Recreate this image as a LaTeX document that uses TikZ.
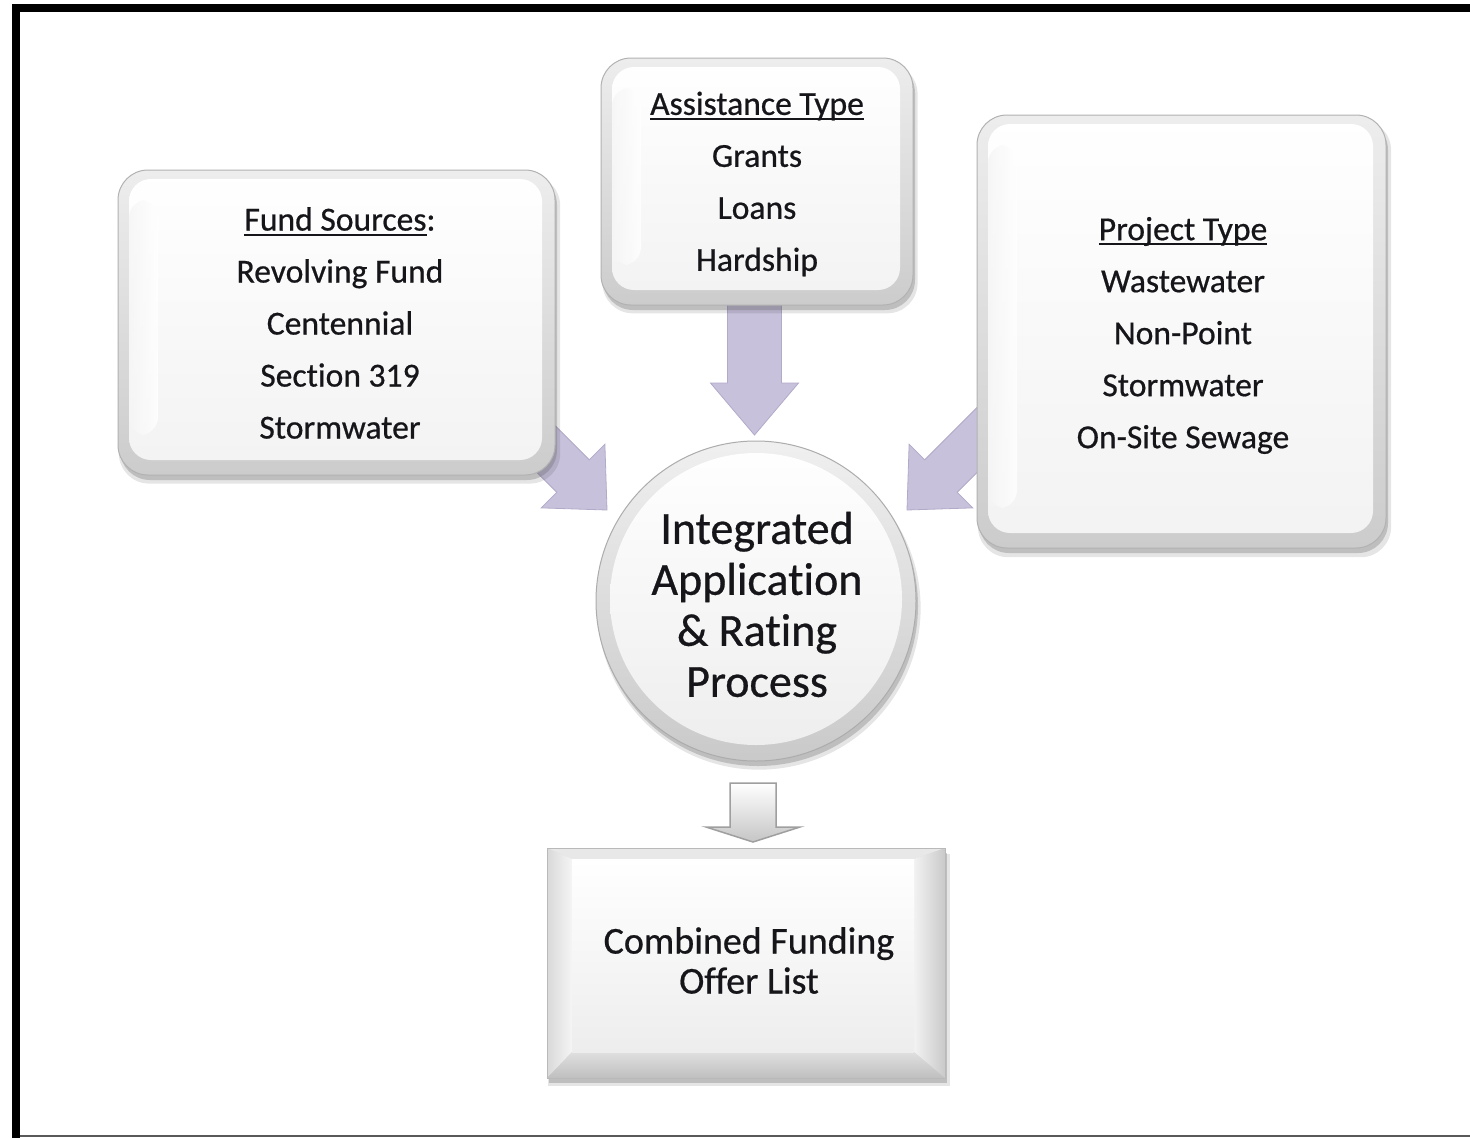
\documentclass[tikz,border=0pt]{standalone}
\usepackage{fontspec}
\setmainfont{Carlito}[Ligatures=NoCommon, FakeBold=0.6]
\usetikzlibrary{calc,shadows}
\definecolor{arrowc}{RGB}{200,193,220}
\definecolor{arrowe}{RGB}{178,170,200}
\definecolor{txt}{RGB}{22,22,26}
\newcommand\undl[1]{\setbox0\hbox{#1}\rlap{\rule[-5pt]{\wd0}{2pt}}\box0}
\newcommand\blockarrow[6]{%
  \coordinate (ab) at ($(#2)!#5!(#1)$);
  \path[#6] ($(#1)!#3!90:(#2)$) -- ($(ab)!#3!90:(#2)$) -- ($(ab)!#4!90:(#2)$)
    -- (#2) -- ($(ab)!#4!-90:(#2)$) -- ($(ab)!#3!-90:(#2)$) -- ($(#1)!#3!-90:(#2)$) -- cycle;
}
\tikzset{
  lav/.style={fill=arrowc, draw=arrowe, line width=0.8pt, line join=miter},
  smallarr/.style={top color=white, bottom color=gray!45, draw=gray!75, line width=1.5pt},
  shad/.style={drop shadow={shadow xshift=2pt, shadow yshift=-5pt, opacity=0.3, fill=black!55},
               drop shadow={shadow xshift=3pt, shadow yshift=-7pt, shadow scale=1.01, opacity=0.1, fill=black}},
  gloss/.style={shad, rounded corners=30pt, draw=gray!60, line width=1pt,
    top color=gray!14, bottom color=gray!40,
    path picture={
      \shade[top color=white, bottom color=gray!10, rounded corners=22pt]
        ([shift={(11pt,-9pt)}]path picture bounding box.north west) rectangle
        ([shift={(-13pt,15pt)}]path picture bounding box.south east);
      \shade[left color=gray!8, right color=white, rounded corners=18pt, opacity=0.8]
        ([shift={(11pt,-30pt)}]path picture bounding box.north west) rectangle
        ([shift={(40pt,40pt)}]path picture bounding box.south west);
    }},
  ball/.style={shad, circle, draw=gray!65, line width=1pt, inner sep=0pt,
    top color=gray!12, bottom color=gray!42,
    path picture={
      \shade[top color=white, bottom color=gray!14]
        ([shift={(0pt,2pt)}]path picture bounding box.center) circle (146pt);
    }},
  bevel/.style={shad, rectangle, draw=gray!55, line width=1pt, fill=gray!30,
    path picture={
      \coordinate (bnw) at (path picture bounding box.north west);
      \coordinate (bne) at (path picture bounding box.north east);
      \coordinate (bsw) at (path picture bounding box.south west);
      \coordinate (bse) at (path picture bounding box.south east);
      \coordinate (inw) at ([shift={(25pt,-11pt)}]bnw);
      \coordinate (ine) at ([shift={(-31pt,-11pt)}]bne);
      \coordinate (isw) at ([shift={(25pt,26pt)}]bsw);
      \coordinate (ise) at ([shift={(-31pt,26pt)}]bse);
      \fill[gray!18] (bnw) -- (bne) -- (ine) -- (inw) -- cycle;
      \shade[left color=gray!30, right color=gray!8] (bnw) -- (inw) -- (isw) -- (bsw) -- cycle;
      \shade[left color=gray!10, right color=gray!42] (bne) -- (ine) -- (ise) -- (bse) -- cycle;
      \shade[top color=gray!25, bottom color=gray!50] (bsw) -- (isw) -- (ise) -- (bse) -- cycle;
      \shade[top color=white, bottom color=gray!14] (inw) rectangle (ise);
    }},
  lbl/.style={align=center, text=txt, inner sep=0pt}
}
\begin{document}
\begin{tikzpicture}[x=1pt, y=-1pt]
\useasboundingbox (0,0) rectangle (1470,1138);
\fill[white] (0,0) rectangle (1470,1138);
% frame
\draw[line width=8pt] (12,8) -- (1470,8);
\draw[line width=8pt] (16,4) -- (16,1138);
\draw[gray!70!black, line width=2pt] (20,1136) -- (1470,1136);

% arrow anchors
\coordinate (ta) at (754.5,290);
\coordinate (tb) at (754.5,435);
\coordinate (la) at (487,390);
\coordinate (lb) at (607,510);
\coordinate (ra) at (1027,390);
\coordinate (rb) at (907,510);
\coordinate (ba) at (753,783);
\coordinate (bb) at (753,842);

\blockarrow{ta}{tb}{27pt}{44pt}{52pt}{lav}
\blockarrow{la}{lb}{23pt}{45pt}{48pt}{lav}
\blockarrow{ra}{rb}{23pt}{45pt}{48pt}{lav}

% boxes
\node[gloss, minimum width=437pt, minimum height=305pt] (fund) at (336.5,322.5) {};
\node[gloss, minimum width=312pt, minimum height=247pt] (asst) at (757,181.5) {};
\node[gloss, minimum width=409pt, minimum height=433pt] (proj) at (1181.5,331.5) {};
\node[ball, minimum size=320pt] (proc) at (756,601) {};
\node[bevel, minimum width=398pt, minimum height=230pt] (offer) at (746,963) {};

\blockarrow{ba}{bb}{23pt}{47pt}{15pt}{smallarr}

% texts
\node[lbl, font={\fontsize{33.6}{52}\selectfont}] (fundtxt) at (340,323)
  {\undl{Fund Sources}:\\Revolving Fund\\Centennial\\Section 319\\Stormwater};
\node[lbl, font={\fontsize{33.6}{52}\selectfont}] (assttxt) at (757,184)
  {\undl{Assistance Type}\\Grants\\Loans\\Hardship};
\node[lbl, font={\fontsize{33.6}{52}\selectfont}] (projtxt) at (1183,335.5)
  {\undl{Project Type}\\Wastewater\\Non-Point\\Stormwater\\On-Site Sewage};
\node[lbl, font={\fontsize{46}{51}\selectfont}] (proctxt) at (757,604.5)
  {Integrated\\Application\\\& Rating\\Process};
\node[lbl, font={\fontsize{38}{40}\selectfont}] (offertxt) at (749,960.5)
  {Combined Funding\\Offer List};
\end{tikzpicture}
\end{document}
